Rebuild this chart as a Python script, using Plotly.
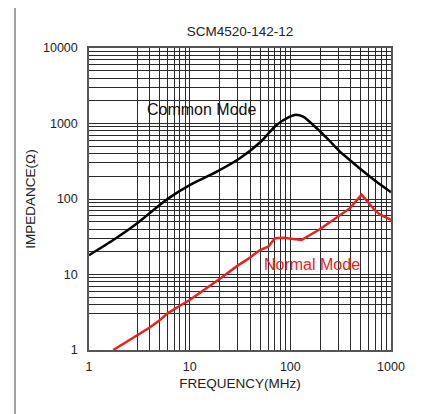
import plotly.graph_objects as go

# Common mode impedance curve (MHz, Ohm)
cm_freq = [1, 1.74, 2.97, 5.07, 6.36, 10, 18.6, 31.5, 49.9, 62.9, 73, 98.8, 111, 134, 183, 239, 309, 389, 530, 718, 1000]
cm_imp = [18, 28.6, 47, 84, 105, 153, 230, 346, 560, 778, 955, 1230, 1300, 1230, 865, 610, 427, 329, 233, 169, 123]

# Normal mode impedance curve (MHz, Ohm)
nm_freq = [1.74, 2.97, 3.97, 5.07, 6.04, 8, 10, 20.3, 29.7, 36.8, 49.9, 60.2, 70.4, 85, 129, 196, 389, 511, 690, 780, 1000]
nm_imp = [1.0, 1.53, 1.97, 2.5, 3.06, 3.86, 4.6, 8.9, 13, 15.6, 21.1, 23.3, 30.2, 30.7, 28.6, 39.7, 75, 114, 71, 62, 52.7]

x_ticks = [1, 10, 100, 1000]
x_ticklabels = ["1", "10", "100", "1000"]
y_ticks = [1, 10, 100, 1000, 10000]
y_ticklabels = ["1", "10", "100", "1000", "10000"]

x_minor = [3, 4, 5, 6, 7, 8, 9] + [k * 10 for k in range(2, 10)] + [k * 100 for k in range(2, 10)]
y_minor = [3, 4, 5, 6, 7, 8, 9] + [k * 10 for k in range(2, 10)] + [k * 100 for k in range(2, 10)] + [k * 1000 for k in range(2, 10)]

FONT = "Liberation Sans, Arial, sans-serif"
GRID = "#2a2a2a"
W, H = 417, 406  # page body has an 8px margin

fig = go.Figure()
fig.add_trace(go.Scatter(x=cm_freq, y=cm_imp, mode="lines", name="Common Mode",
                         line=dict(color="#000000", width=2.5, shape="spline", smoothing=0.6)))
fig.add_trace(go.Scatter(x=nm_freq, y=nm_imp, mode="lines", name="Normal Mode",
                         line=dict(color="#e8221f", width=2.5)))

fig.update_layout(
    width=W, height=H,
    margin=dict(l=81, r=34, t=40, b=64),
    paper_bgcolor="white", plot_bgcolor="white",
    showlegend=False,
    font=dict(family=FONT, color="#222222", size=12),
    title=dict(text="SCM4520-142-12", x=0.5, xref="paper", xanchor="center",
               y=1 - 23.7 / H, yref="container", yanchor="middle",
               font=dict(size=13.5, family=FONT, color="#222222")),
    xaxis=dict(type="log", range=[0, 3], tickvals=x_ticks, ticktext=x_ticklabels,
               showgrid=True, gridcolor=GRID, gridwidth=1,
               minor=dict(tickvals=x_minor, showgrid=True, gridcolor=GRID, gridwidth=1, ticks=""),
               showline=True, linecolor="#555555", linewidth=1.5, mirror=True,
               ticks="", ticklabelstandoff=4, zeroline=False,
               tickfont=dict(size=12.5, family=FONT, color="#222222"),
               title=dict(text="FREQUENCY(MHz)", standoff=6,
                          font=dict(size=13.5, family=FONT, color="#222222"))),
    yaxis=dict(type="log", range=[0, 4], tickvals=y_ticks, ticktext=y_ticklabels,
               showgrid=True, gridcolor=GRID, gridwidth=1,
               minor=dict(tickvals=y_minor, showgrid=True, gridcolor=GRID, gridwidth=1, ticks=""),
               showline=True, linecolor="#555555", linewidth=1.5, mirror=True,
               ticks="", ticklabelstandoff=7, zeroline=False,
               tickfont=dict(size=12.5, family=FONT, color="#222222"),
               title=dict(text="IMPEDANCE(Ω)", standoff=4,
                          font=dict(size=13.5, family=FONT, color="#222222"))),
)

fig.add_annotation(text="Common Mode", x=0.556, y=3.19, xref="x", yref="y",
                   xanchor="left", yanchor="middle", showarrow=False,
                   font=dict(size=16, family=FONT, color="#111111"))
fig.add_annotation(text="Normal Mode", x=1.715, y=1.13, xref="x", yref="y",
                   xanchor="left", yanchor="middle", showarrow=False,
                   font=dict(size=16, family=FONT, color="#e8221f"))

fig.add_shape(type="rect", xref="paper", yref="paper",
              x0=-74 / 302, x1=(423 - 89) / 302, y0=-0.25, y1=(350 - 4) / 302,
              line=dict(color="#444444", width=1), fillcolor="rgba(0,0,0,0)", layer="below")

fig.write_html("out.html")
